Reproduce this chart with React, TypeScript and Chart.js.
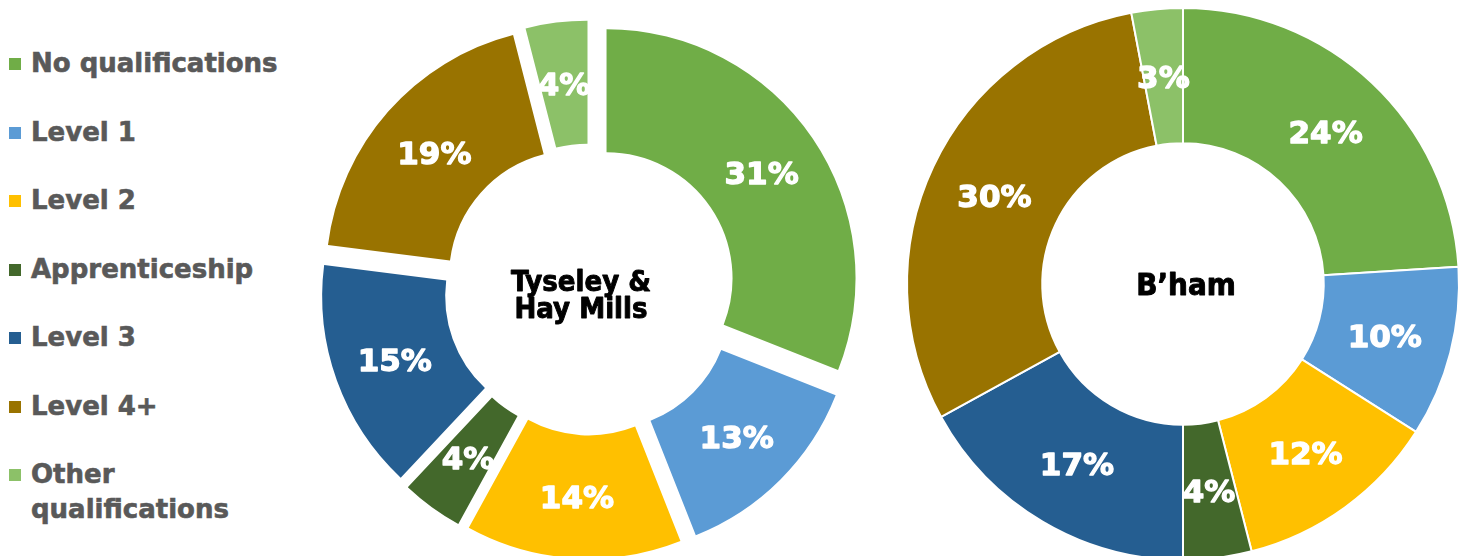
import React, { useEffect, useRef } from 'react';
import { Chart, registerables } from 'chart.js';

Chart.register(...registerables);

// ---- data ----
const categories = [
  'No qualifications',
  'Level 1',
  'Level 2',
  'Apprenticeship',
  'Level 3',
  'Level 4+',
  'Other qualifications',
];
const colors = ['#70AD47', '#5B9BD5', '#FFC000', '#43682B', '#255E91', '#997300', '#8CC168'];
const tyseleyValues = [31, 13, 14, 4, 15, 19, 4];
const birminghamValues = [24, 10, 12, 4, 17, 30, 3];
const tyseleyTitle = ['Tyseley &', 'Hay Mills'];
const birminghamTitle = ['B\u2019ham'];

const LABEL_FONT = '"DejaVu Sans", Verdana, sans-serif';
const TEXT_FONT = '"DejaVu Sans Condensed", "DejaVu Sans", Tahoma, sans-serif';

// move every slice outward along its mid-angle (Excel "point explosion")
const explodePlugin = {
  id: 'explode',
  afterDatasetUpdate(chart: any, args: any, opts: any) {
    const d = opts && opts.distance ? opts.distance : 0;
    if (!d) return;
    args.meta.data.forEach((arc: any) => {
      const mid = (arc.startAngle + arc.endAngle) / 2;
      arc.x += Math.cos(mid) * d;
      arc.y += Math.sin(mid) * d;
    });
  },
};

const sliceLabelPlugin = {
  id: 'sliceLabels',
  afterDatasetsDraw(chart: any, _args: any, opts: any) {
    const ctx = chart.ctx;
    const meta = chart.getDatasetMeta(0);
    const values = chart.data.datasets[0].data;
    const size = opts.size || 30;
    ctx.save();
    ctx.font = `bold ${size}px ${LABEL_FONT}`;
    ctx.fillStyle = '#FFFFFF';
    ctx.strokeStyle = '#FFFFFF';
    ctx.lineWidth = 1.3;
    ctx.lineJoin = 'round';
    ctx.textAlign = 'center';
    ctx.textBaseline = 'alphabetic';
    meta.data.forEach((arc: any, i: number) => {
      const p = arc.getCenterPoint();
      const t = values[i] + '%';
      ctx.fillText(t, p.x, p.y + size * 0.365);
      ctx.strokeText(t, p.x, p.y + size * 0.365);
    });
    ctx.restore();
  },
};

const centerTextPlugin = {
  id: 'centerText',
  afterDraw(chart: any, _args: any, opts: any) {
    const lines: string[] = opts.lines || [];
    if (!lines.length) return;
    const ctx = chart.ctx;
    const { left, right, top, bottom } = chart.chartArea;
    const cx = (left + right) / 2 + (opts.dx || 0);
    const cy = (top + bottom) / 2 + (opts.dy || 0);
    const size = opts.size || 28;
    const gap = opts.lineGap || size;
    const first = cy - ((lines.length - 1) * gap) / 2;
    ctx.save();
    ctx.font = `bold ${size}px ${TEXT_FONT}`;
    ctx.fillStyle = '#000000';
    ctx.strokeStyle = '#000000';
    ctx.lineWidth = 0.9;
    ctx.lineJoin = 'round';
    ctx.textAlign = 'center';
    ctx.textBaseline = 'alphabetic';
    lines.forEach((l, i) => {
      const y = first + i * gap + size * 0.365;
      ctx.fillText(l, cx, y);
      ctx.strokeText(l, cx, y);
    });
    ctx.restore();
  },
};

function makeDoughnut(
  canvas: HTMLCanvasElement,
  values: number[],
  opts: { radius: number; cutout: string; padTop: number; border: number; explode: number; title: string[]; size: number; dx: number; dy: number; gap: number }
) {
  return new Chart(canvas, {
    type: 'doughnut',
    data: {
      labels: categories,
      datasets: [
        {
          data: values,
          backgroundColor: colors,
          borderColor: '#FFFFFF',
          borderWidth: opts.border,
        },
      ],
    },
    options: {
      animation: false,
      responsive: false,
      devicePixelRatio: 1,
      radius: opts.radius,
      cutout: opts.cutout,
      layout: { padding: { top: opts.padTop } },
      events: [],
      plugins: {
        legend: { display: false },
        tooltip: { enabled: false },
        explode: { distance: opts.explode },
        sliceLabels: { size: 31 },
        centerText: { lines: opts.title, size: opts.size, dx: opts.dx, dy: opts.dy, lineGap: opts.gap },
      } as any,
    } as any,
    plugins: [explodePlugin, sliceLabelPlugin, centerTextPlugin],
  });
}

function Legend() {
  return (
    <div style={{ position: 'absolute', left: 0, top: 0, width: 300, height: 556 }}>
      {categories.map((c, i) => {
        const centerY = 63 + i * 68.5;
        return (
          <div key={c}>
            <div
              style={{
                position: 'absolute',
                left: 9,
                top: centerY - 5,
                width: 12,
                height: 12,
                background: colors[i],
              }}
            />
            <div
              style={{
                position: 'absolute',
                left: 31,
                top: centerY - 17,
                width: 262,
                font: `bold 26px "DejaVu Sans", Verdana, sans-serif`,
                lineHeight: '35px',
                color: '#595959',
                WebkitTextStroke: '0.6px #595959',
              }}
            >
              {c}
            </div>
          </div>
        );
      })}
    </div>
  );
}

export default function App() {
  const leftRef = useRef<HTMLCanvasElement>(null);
  const rightRef = useRef<HTMLCanvasElement>(null);

  useEffect(() => {
    const left = makeDoughnut(leftRef.current as HTMLCanvasElement, tyseleyValues, {
      radius: 249,
      cutout: '50.6%',
      padTop: 23,
      border: 0,
      explode: 20,
      title: tyseleyTitle,
      size: 29,
      dx: -9,
      dy: 4,
      gap: 27,
    });
    const right = makeDoughnut(rightRef.current as HTMLCanvasElement, birminghamValues, {
      radius: 276,
      cutout: '51%',
      padTop: 12,
      border: 2,
      explode: 0,
      title: birminghamTitle,
      size: 31,
      dx: 3,
      dy: 0,
      gap: 27,
    });
    return () => {
      left.destroy();
      right.destroy();
    };
  }, []);

  return (
    <div
      style={{
        position: 'absolute',
        left: 0,
        top: 0,
        width: 1467,
        height: 556,
        overflow: 'hidden',
        background: '#FFFFFF',
      }}
    >
      <Legend />
      <canvas ref={leftRef} width={580} height={556} style={{ position: 'absolute', left: 300, top: 0 }} />
      <canvas ref={rightRef} width={566} height={556} style={{ position: 'absolute', left: 900, top: 0 }} />
    </div>
  );
}
